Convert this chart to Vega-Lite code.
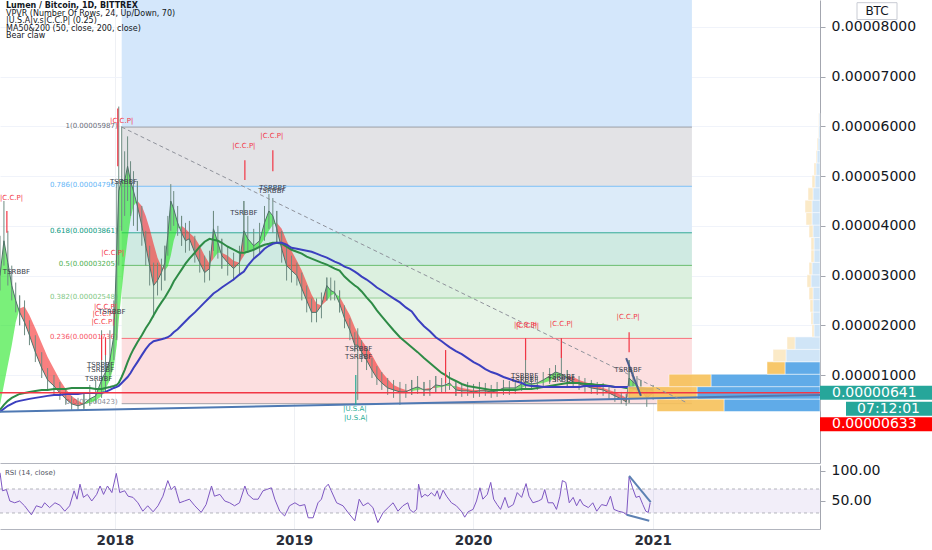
{
  "$schema": "https://vega.github.io/schema/vega-lite/v6.json",
  "background": "#ffffff",
  "padding": 0,
  "spacing": 0,
  "config": {
    "view": {"stroke": null},
    "font": "DejaVu Sans",
    "text": {"font": "DejaVu Sans"},
    "title": {"font": "DejaVu Sans", "subtitleFont": "DejaVu Sans"},
    "axis": {"labelFont": "DejaVu Sans"}
  },
  "datasets": {
    "fibBands": [
      {"date": "2018-01-15", "date2": "2021-03-22", "lo": 0.00005987, "hi": 0.00009, "zone": "target"},
      {"date": "2018-01-15", "date2": "2021-03-22", "lo": 0.00004796, "hi": 0.00005987, "zone": "1-0.786"},
      {"date": "2018-01-15", "date2": "2021-03-22", "lo": 0.00003861, "hi": 0.00004796, "zone": "0.786-0.618"},
      {"date": "2018-01-15", "date2": "2021-03-22", "lo": 0.00003205, "hi": 0.00003861, "zone": "0.618-0.5"},
      {"date": "2018-01-15", "date2": "2021-03-22", "lo": 0.00002548, "hi": 0.00003205, "zone": "0.5-0.382"},
      {"date": "2018-01-15", "date2": "2021-03-22", "lo": 0.00001736, "hi": 0.00002548, "zone": "0.382-0.236"},
      {"date": "2018-01-15", "date2": "2021-03-22", "lo": 0.00000423, "hi": 0.00001736, "zone": "0.236-0"}
    ],
    "fibLevels": [
      {"date": "2018-01-15", "date2": "2021-03-22", "level": "1", "price": 0.00005987, "label": "1(0.00005987)"},
      {"date": "2018-01-15", "date2": "2021-03-22", "level": "0.786", "price": 0.00004796, "label": "0.786(0.00004796)"},
      {"date": "2018-01-15", "date2": "2021-03-22", "level": "0.618", "price": 0.00003861, "label": "0.618(0.00003861)"},
      {"date": "2018-01-15", "date2": "2021-03-22", "level": "0.5", "price": 0.00003205, "label": "0.5(0.00003205)"},
      {"date": "2018-01-15", "date2": "2021-03-22", "level": "0.382", "price": 0.00002548, "label": "0.382(0.00002548)"},
      {"date": "2018-01-15", "date2": "2021-03-22", "level": "0.236", "price": 0.00001736, "label": "0.236(0.00001736)"},
      {"date": "2018-01-15", "date2": "2021-03-22", "level": "0", "price": 0.00000423, "label": "0(0.00000423)"}
    ],
    "xlm": [
      {"date": "2017-05-12", "close": 0.0000300, "claw": 0.0000040, "high": 0.0000380, "low": 0.0000270, "ma50": 0.0000030, "ma200": 0.0000026, "seg": 1, "trend": "up"},
      {"date": "2017-05-20", "close": 0.0000370, "claw": 0.0000080, "high": 0.0000450, "low": 0.0000320, "ma50": 0.0000040, "ma200": 0.0000032, "seg": 1, "trend": "up"},
      {"date": "2017-05-28", "close": 0.0000326, "claw": 0.0000120, "high": 0.0000390, "low": 0.0000280, "ma50": 0.0000048, "ma200": 0.0000038, "seg": 1, "trend": "up"},
      {"date": "2017-06-05", "close": 0.0000280, "claw": 0.0000160, "high": 0.0000320, "low": 0.0000250, "ma50": 0.0000054, "ma200": 0.0000042, "seg": 1, "trend": "up"},
      {"date": "2017-06-13", "close": 0.0000250, "claw": 0.0000206, "high": 0.0000286, "low": 0.0000226, "ma50": 0.0000058, "ma200": 0.0000046, "seg": 1, "trend": "up"},
      {"date": "2017-06-21", "close": 0.0000226, "claw": 0.0000234, "high": 0.0000260, "low": 0.0000200, "ma50": 0.0000062, "ma200": 0.0000048, "seg": 1, "trend": "up"},
      {"date": "2017-06-21", "close": 0.0000226, "claw": 0.0000234, "high": 0.0000260, "low": 0.0000200, "ma50": 0.0000062, "ma200": 0.0000048, "seg": 2, "trend": "down"},
      {"date": "2017-07-01", "close": 0.0000206, "claw": 0.0000238, "high": 0.0000250, "low": 0.0000180, "ma50": 0.0000064, "ma200": 0.0000050, "seg": 2, "trend": "down"},
      {"date": "2017-07-11", "close": 0.0000180, "claw": 0.0000220, "high": 0.0000210, "low": 0.0000160, "ma50": 0.0000066, "ma200": 0.0000052, "seg": 2, "trend": "down"},
      {"date": "2017-07-23", "close": 0.0000146, "claw": 0.0000194, "high": 0.0000180, "low": 0.0000126, "ma50": 0.0000068, "ma200": 0.0000054, "seg": 2, "trend": "down"},
      {"date": "2017-08-05", "close": 0.0000114, "claw": 0.0000164, "high": 0.0000146, "low": 0.0000094, "ma50": 0.0000070, "ma200": 0.0000056, "seg": 2, "trend": "down"},
      {"date": "2017-08-17", "close": 0.0000090, "claw": 0.0000136, "high": 0.0000114, "low": 0.0000070, "ma50": 0.0000070, "ma200": 0.0000058, "seg": 2, "trend": "down"},
      {"date": "2017-08-30", "close": 0.0000078, "claw": 0.0000112, "high": 0.0000100, "low": 0.0000058, "ma50": 0.0000072, "ma200": 0.0000060, "seg": 2, "trend": "down"},
      {"date": "2017-09-11", "close": 0.0000064, "claw": 0.0000090, "high": 0.0000086, "low": 0.0000050, "ma50": 0.0000072, "ma200": 0.0000060, "seg": 2, "trend": "down"},
      {"date": "2017-09-23", "close": 0.0000052, "claw": 0.0000072, "high": 0.0000070, "low": 0.0000040, "ma50": 0.0000072, "ma200": 0.0000062, "seg": 2, "trend": "down"},
      {"date": "2017-10-05", "close": 0.0000042, "claw": 0.0000058, "high": 0.0000058, "low": 0.0000030, "ma50": 0.0000074, "ma200": 0.0000062, "seg": 2, "trend": "down"},
      {"date": "2017-10-18", "close": 0.0000038, "claw": 0.0000048, "high": 0.0000054, "low": 0.0000030, "ma50": 0.0000074, "ma200": 0.0000062, "seg": 2, "trend": "down"},
      {"date": "2017-10-30", "close": 0.0000042, "claw": 0.0000042, "high": 0.0000062, "low": 0.0000032, "ma50": 0.0000074, "ma200": 0.0000064, "seg": 2, "trend": "down"},
      {"date": "2017-10-30", "close": 0.0000042, "claw": 0.0000042, "high": 0.0000062, "low": 0.0000032, "ma50": 0.0000074, "ma200": 0.0000064, "seg": 3, "trend": "up"},
      {"date": "2017-11-11", "close": 0.0000052, "claw": 0.0000044, "high": 0.0000080, "low": 0.0000038, "ma50": 0.0000074, "ma200": 0.0000064, "seg": 3, "trend": "up"},
      {"date": "2017-11-23", "close": 0.0000058, "claw": 0.0000048, "high": 0.0000090, "low": 0.0000044, "ma50": 0.0000072, "ma200": 0.0000064, "seg": 3, "trend": "up"},
      {"date": "2017-12-05", "close": 0.0000090, "claw": 0.0000058, "high": 0.0000190, "low": 0.0000054, "ma50": 0.0000072, "ma200": 0.0000064, "seg": 3, "trend": "up"},
      {"date": "2017-12-13", "close": 0.0000106, "claw": 0.0000072, "high": 0.0000170, "low": 0.0000066, "ma50": 0.0000074, "ma200": 0.0000066, "seg": 3, "trend": "up"},
      {"date": "2017-12-22", "close": 0.0000130, "claw": 0.0000090, "high": 0.0000190, "low": 0.0000100, "ma50": 0.0000076, "ma200": 0.0000070, "seg": 3, "trend": "up"},
      {"date": "2017-12-30", "close": 0.0000180, "claw": 0.0000118, "high": 0.0000250, "low": 0.0000130, "ma50": 0.0000078, "ma200": 0.0000074, "seg": 3, "trend": "up"},
      {"date": "2018-01-05", "close": 0.0000350, "claw": 0.0000160, "high": 0.0000490, "low": 0.0000170, "ma50": 0.0000080, "ma200": 0.0000076, "seg": 3, "trend": "up"},
      {"date": "2018-01-09", "close": 0.0000470, "claw": 0.0000210, "high": 0.0000640, "low": 0.0000320, "ma50": 0.0000084, "ma200": 0.0000078, "seg": 3, "trend": "up"},
      {"date": "2018-01-15", "close": 0.0000494, "claw": 0.0000270, "high": 0.0000600, "low": 0.0000390, "ma50": 0.0000096, "ma200": 0.0000084, "seg": 3, "trend": "up"},
      {"date": "2018-01-21", "close": 0.0000490, "claw": 0.0000326, "high": 0.0000550, "low": 0.0000420, "ma50": 0.0000110, "ma200": 0.0000090, "seg": 3, "trend": "up"},
      {"date": "2018-01-27", "close": 0.0000520, "claw": 0.0000374, "high": 0.0000580, "low": 0.0000450, "ma50": 0.0000126, "ma200": 0.0000096, "seg": 3, "trend": "up"},
      {"date": "2018-02-02", "close": 0.0000490, "claw": 0.0000414, "high": 0.0000530, "low": 0.0000420, "ma50": 0.0000140, "ma200": 0.0000104, "seg": 3, "trend": "up"},
      {"date": "2018-02-08", "close": 0.0000470, "claw": 0.0000440, "high": 0.0000510, "low": 0.0000400, "ma50": 0.0000152, "ma200": 0.0000114, "seg": 3, "trend": "up"},
      {"date": "2018-02-16", "close": 0.0000440, "claw": 0.0000450, "high": 0.0000490, "low": 0.0000390, "ma50": 0.0000166, "ma200": 0.0000126, "seg": 3, "trend": "up"},
      {"date": "2018-02-16", "close": 0.0000440, "claw": 0.0000450, "high": 0.0000490, "low": 0.0000390, "ma50": 0.0000166, "ma200": 0.0000126, "seg": 4, "trend": "down"},
      {"date": "2018-02-25", "close": 0.0000400, "claw": 0.0000440, "high": 0.0000440, "low": 0.0000360, "ma50": 0.0000180, "ma200": 0.0000140, "seg": 4, "trend": "down"},
      {"date": "2018-03-05", "close": 0.0000360, "claw": 0.0000420, "high": 0.0000390, "low": 0.0000320, "ma50": 0.0000194, "ma200": 0.0000152, "seg": 4, "trend": "down"},
      {"date": "2018-03-13", "close": 0.0000320, "claw": 0.0000394, "high": 0.0000360, "low": 0.0000280, "ma50": 0.0000206, "ma200": 0.0000162, "seg": 4, "trend": "down"},
      {"date": "2018-03-21", "close": 0.0000280, "claw": 0.0000364, "high": 0.0000326, "low": 0.0000216, "ma50": 0.0000220, "ma200": 0.0000168, "seg": 4, "trend": "down"},
      {"date": "2018-03-29", "close": 0.0000290, "claw": 0.0000336, "high": 0.0000326, "low": 0.0000260, "ma50": 0.0000234, "ma200": 0.0000170, "seg": 4, "trend": "down"},
      {"date": "2018-04-06", "close": 0.0000306, "claw": 0.0000318, "high": 0.0000334, "low": 0.0000270, "ma50": 0.0000246, "ma200": 0.0000172, "seg": 4, "trend": "down"},
      {"date": "2018-04-13", "close": 0.0000326, "claw": 0.0000310, "high": 0.0000360, "low": 0.0000290, "ma50": 0.0000256, "ma200": 0.0000174, "seg": 4, "trend": "down"},
      {"date": "2018-04-13", "close": 0.0000326, "claw": 0.0000310, "high": 0.0000360, "low": 0.0000290, "ma50": 0.0000256, "ma200": 0.0000174, "seg": 5, "trend": "up"},
      {"date": "2018-04-19", "close": 0.0000380, "claw": 0.0000318, "high": 0.0000420, "low": 0.0000340, "ma50": 0.0000266, "ma200": 0.0000176, "seg": 5, "trend": "up"},
      {"date": "2018-04-25", "close": 0.0000450, "claw": 0.0000340, "high": 0.0000484, "low": 0.0000390, "ma50": 0.0000276, "ma200": 0.0000180, "seg": 5, "trend": "up"},
      {"date": "2018-05-01", "close": 0.0000434, "claw": 0.0000370, "high": 0.0000470, "low": 0.0000400, "ma50": 0.0000288, "ma200": 0.0000186, "seg": 5, "trend": "up"},
      {"date": "2018-05-09", "close": 0.0000406, "claw": 0.0000394, "high": 0.0000440, "low": 0.0000380, "ma50": 0.0000300, "ma200": 0.0000192, "seg": 5, "trend": "up"},
      {"date": "2018-05-17", "close": 0.0000386, "claw": 0.0000400, "high": 0.0000420, "low": 0.0000360, "ma50": 0.0000312, "ma200": 0.0000200, "seg": 5, "trend": "up"},
      {"date": "2018-05-17", "close": 0.0000386, "claw": 0.0000400, "high": 0.0000420, "low": 0.0000360, "ma50": 0.0000312, "ma200": 0.0000200, "seg": 6, "trend": "down"},
      {"date": "2018-05-25", "close": 0.0000370, "claw": 0.0000394, "high": 0.0000406, "low": 0.0000346, "ma50": 0.0000324, "ma200": 0.0000208, "seg": 6, "trend": "down"},
      {"date": "2018-06-02", "close": 0.0000374, "claw": 0.0000386, "high": 0.0000410, "low": 0.0000350, "ma50": 0.0000334, "ma200": 0.0000216, "seg": 6, "trend": "down"},
      {"date": "2018-06-13", "close": 0.0000346, "claw": 0.0000376, "high": 0.0000380, "low": 0.0000326, "ma50": 0.0000346, "ma200": 0.0000226, "seg": 6, "trend": "down"},
      {"date": "2018-06-23", "close": 0.0000326, "claw": 0.0000360, "high": 0.0000360, "low": 0.0000306, "ma50": 0.0000358, "ma200": 0.0000236, "seg": 6, "trend": "down"},
      {"date": "2018-07-03", "close": 0.0000306, "claw": 0.0000340, "high": 0.0000340, "low": 0.0000286, "ma50": 0.0000368, "ma200": 0.0000246, "seg": 6, "trend": "down"},
      {"date": "2018-07-13", "close": 0.0000314, "claw": 0.0000324, "high": 0.0000350, "low": 0.0000290, "ma50": 0.0000374, "ma200": 0.0000256, "seg": 6, "trend": "down"},
      {"date": "2018-07-21", "close": 0.0000394, "claw": 0.0000334, "high": 0.0000430, "low": 0.0000350, "ma50": 0.0000372, "ma200": 0.0000264, "seg": 6, "trend": "down"},
      {"date": "2018-07-21", "close": 0.0000394, "claw": 0.0000334, "high": 0.0000430, "low": 0.0000350, "ma50": 0.0000372, "ma200": 0.0000264, "seg": 7, "trend": "up"},
      {"date": "2018-07-30", "close": 0.0000366, "claw": 0.0000346, "high": 0.0000400, "low": 0.0000334, "ma50": 0.0000370, "ma200": 0.0000270, "seg": 7, "trend": "up"},
      {"date": "2018-08-07", "close": 0.0000340, "claw": 0.0000346, "high": 0.0000374, "low": 0.0000314, "ma50": 0.0000366, "ma200": 0.0000276, "seg": 7, "trend": "up"},
      {"date": "2018-08-07", "close": 0.0000340, "claw": 0.0000346, "high": 0.0000374, "low": 0.0000314, "ma50": 0.0000366, "ma200": 0.0000276, "seg": 8, "trend": "down"},
      {"date": "2018-08-19", "close": 0.0000326, "claw": 0.0000340, "high": 0.0000360, "low": 0.0000300, "ma50": 0.0000358, "ma200": 0.0000284, "seg": 8, "trend": "down"},
      {"date": "2018-08-31", "close": 0.0000314, "claw": 0.0000330, "high": 0.0000346, "low": 0.0000290, "ma50": 0.0000352, "ma200": 0.0000292, "seg": 8, "trend": "down"},
      {"date": "2018-09-12", "close": 0.0000326, "claw": 0.0000326, "high": 0.0000360, "low": 0.0000300, "ma50": 0.0000346, "ma200": 0.0000302, "seg": 8, "trend": "down"},
      {"date": "2018-09-21", "close": 0.0000390, "claw": 0.0000340, "high": 0.0000450, "low": 0.0000350, "ma50": 0.0000346, "ma200": 0.0000308, "seg": 8, "trend": "down"},
      {"date": "2018-09-21", "close": 0.0000390, "claw": 0.0000340, "high": 0.0000450, "low": 0.0000350, "ma50": 0.0000346, "ma200": 0.0000308, "seg": 9, "trend": "up"},
      {"date": "2018-09-29", "close": 0.0000374, "claw": 0.0000350, "high": 0.0000420, "low": 0.0000346, "ma50": 0.0000348, "ma200": 0.0000320, "seg": 9, "trend": "up"},
      {"date": "2018-10-11", "close": 0.0000360, "claw": 0.0000354, "high": 0.0000394, "low": 0.0000334, "ma50": 0.0000352, "ma200": 0.0000334, "seg": 9, "trend": "up"},
      {"date": "2018-10-23", "close": 0.0000370, "claw": 0.0000360, "high": 0.0000406, "low": 0.0000346, "ma50": 0.0000358, "ma200": 0.0000344, "seg": 9, "trend": "up"},
      {"date": "2018-11-02", "close": 0.0000406, "claw": 0.0000374, "high": 0.0000440, "low": 0.0000370, "ma50": 0.0000362, "ma200": 0.0000354, "seg": 9, "trend": "up"},
      {"date": "2018-11-11", "close": 0.0000430, "claw": 0.0000390, "high": 0.0000464, "low": 0.0000394, "ma50": 0.0000364, "ma200": 0.0000360, "seg": 9, "trend": "up"},
      {"date": "2018-11-19", "close": 0.0000420, "claw": 0.0000402, "high": 0.0000456, "low": 0.0000386, "ma50": 0.0000366, "ma200": 0.0000364, "seg": 9, "trend": "up"},
      {"date": "2018-11-27", "close": 0.0000394, "claw": 0.0000406, "high": 0.0000430, "low": 0.0000366, "ma50": 0.0000366, "ma200": 0.0000366, "seg": 9, "trend": "up"},
      {"date": "2018-11-27", "close": 0.0000394, "claw": 0.0000406, "high": 0.0000430, "low": 0.0000366, "ma50": 0.0000366, "ma200": 0.0000366, "seg": 10, "trend": "down"},
      {"date": "2018-12-07", "close": 0.0000354, "claw": 0.0000394, "high": 0.0000390, "low": 0.0000326, "ma50": 0.0000364, "ma200": 0.0000366, "seg": 10, "trend": "down"},
      {"date": "2018-12-17", "close": 0.0000320, "claw": 0.0000370, "high": 0.0000360, "low": 0.0000290, "ma50": 0.0000358, "ma200": 0.0000362, "seg": 10, "trend": "down"},
      {"date": "2018-12-27", "close": 0.0000310, "claw": 0.0000350, "high": 0.0000340, "low": 0.0000286, "ma50": 0.0000352, "ma200": 0.0000356, "seg": 10, "trend": "down"},
      {"date": "2019-01-07", "close": 0.0000300, "claw": 0.0000330, "high": 0.0000326, "low": 0.0000280, "ma50": 0.0000348, "ma200": 0.0000354, "seg": 10, "trend": "down"},
      {"date": "2019-01-17", "close": 0.0000274, "claw": 0.0000310, "high": 0.0000306, "low": 0.0000250, "ma50": 0.0000344, "ma200": 0.0000352, "seg": 10, "trend": "down"},
      {"date": "2019-01-27", "close": 0.0000250, "claw": 0.0000286, "high": 0.0000280, "low": 0.0000226, "ma50": 0.0000338, "ma200": 0.0000350, "seg": 10, "trend": "down"},
      {"date": "2019-02-06", "close": 0.0000226, "claw": 0.0000262, "high": 0.0000254, "low": 0.0000206, "ma50": 0.0000334, "ma200": 0.0000348, "seg": 10, "trend": "down"},
      {"date": "2019-02-16", "close": 0.0000226, "claw": 0.0000244, "high": 0.0000254, "low": 0.0000206, "ma50": 0.0000330, "ma200": 0.0000344, "seg": 10, "trend": "down"},
      {"date": "2019-02-26", "close": 0.0000240, "claw": 0.0000240, "high": 0.0000266, "low": 0.0000214, "ma50": 0.0000326, "ma200": 0.0000340, "seg": 10, "trend": "down"},
      {"date": "2019-03-09", "close": 0.0000280, "claw": 0.0000250, "high": 0.0000296, "low": 0.0000250, "ma50": 0.0000322, "ma200": 0.0000336, "seg": 10, "trend": "down"},
      {"date": "2019-03-09", "close": 0.0000280, "claw": 0.0000250, "high": 0.0000296, "low": 0.0000250, "ma50": 0.0000322, "ma200": 0.0000336, "seg": 11, "trend": "up"},
      {"date": "2019-03-17", "close": 0.0000270, "claw": 0.0000260, "high": 0.0000296, "low": 0.0000250, "ma50": 0.0000318, "ma200": 0.0000332, "seg": 11, "trend": "up"},
      {"date": "2019-03-25", "close": 0.0000266, "claw": 0.0000264, "high": 0.0000290, "low": 0.0000250, "ma50": 0.0000314, "ma200": 0.0000328, "seg": 11, "trend": "up"},
      {"date": "2019-04-04", "close": 0.0000244, "claw": 0.0000258, "high": 0.0000270, "low": 0.0000226, "ma50": 0.0000310, "ma200": 0.0000324, "seg": 11, "trend": "up"},
      {"date": "2019-04-04", "close": 0.0000244, "claw": 0.0000258, "high": 0.0000270, "low": 0.0000226, "ma50": 0.0000310, "ma200": 0.0000324, "seg": 12, "trend": "down"},
      {"date": "2019-04-14", "close": 0.0000214, "claw": 0.0000240, "high": 0.0000240, "low": 0.0000194, "ma50": 0.0000298, "ma200": 0.0000318, "seg": 12, "trend": "down"},
      {"date": "2019-04-25", "close": 0.0000190, "claw": 0.0000220, "high": 0.0000214, "low": 0.0000170, "ma50": 0.0000288, "ma200": 0.0000314, "seg": 12, "trend": "down"},
      {"date": "2019-05-05", "close": 0.0000160, "claw": 0.0000196, "high": 0.0000186, "low": 0.0000146, "ma50": 0.0000280, "ma200": 0.0000308, "seg": 12, "trend": "down"},
      {"date": "2019-05-11", "close": 0.0000160, "claw": 0.0000184, "high": 0.0000194, "low": 0.0000050, "ma50": 0.0000276, "ma200": 0.0000304, "seg": 12, "trend": "down"},
      {"date": "2019-05-19", "close": 0.0000146, "claw": 0.0000170, "high": 0.0000170, "low": 0.0000126, "ma50": 0.0000268, "ma200": 0.0000298, "seg": 12, "trend": "down"},
      {"date": "2019-05-29", "close": 0.0000130, "claw": 0.0000156, "high": 0.0000154, "low": 0.0000110, "ma50": 0.0000256, "ma200": 0.0000292, "seg": 12, "trend": "down"},
      {"date": "2019-06-09", "close": 0.0000110, "claw": 0.0000140, "high": 0.0000134, "low": 0.0000094, "ma50": 0.0000244, "ma200": 0.0000284, "seg": 12, "trend": "down"},
      {"date": "2019-06-19", "close": 0.0000094, "claw": 0.0000122, "high": 0.0000118, "low": 0.0000080, "ma50": 0.0000230, "ma200": 0.0000276, "seg": 12, "trend": "down"},
      {"date": "2019-06-29", "close": 0.0000084, "claw": 0.0000106, "high": 0.0000106, "low": 0.0000070, "ma50": 0.0000218, "ma200": 0.0000270, "seg": 12, "trend": "down"},
      {"date": "2019-07-11", "close": 0.0000074, "claw": 0.0000092, "high": 0.0000094, "low": 0.0000060, "ma50": 0.0000204, "ma200": 0.0000262, "seg": 12, "trend": "down"},
      {"date": "2019-07-23", "close": 0.0000070, "claw": 0.0000080, "high": 0.0000090, "low": 0.0000054, "ma50": 0.0000190, "ma200": 0.0000254, "seg": 12, "trend": "down"},
      {"date": "2019-08-05", "close": 0.0000066, "claw": 0.0000074, "high": 0.0000086, "low": 0.0000040, "ma50": 0.0000176, "ma200": 0.0000246, "seg": 12, "trend": "down"},
      {"date": "2019-08-17", "close": 0.0000066, "claw": 0.0000070, "high": 0.0000082, "low": 0.0000054, "ma50": 0.0000166, "ma200": 0.0000236, "seg": 12, "trend": "down"},
      {"date": "2019-08-29", "close": 0.0000072, "claw": 0.0000068, "high": 0.0000090, "low": 0.0000060, "ma50": 0.0000156, "ma200": 0.0000228, "seg": 12, "trend": "down"},
      {"date": "2019-08-29", "close": 0.0000072, "claw": 0.0000068, "high": 0.0000090, "low": 0.0000060, "ma50": 0.0000156, "ma200": 0.0000228, "seg": 13, "trend": "up"},
      {"date": "2019-09-10", "close": 0.0000076, "claw": 0.0000070, "high": 0.0000098, "low": 0.0000062, "ma50": 0.0000146, "ma200": 0.0000212, "seg": 13, "trend": "up"},
      {"date": "2019-09-23", "close": 0.0000070, "claw": 0.0000072, "high": 0.0000086, "low": 0.0000058, "ma50": 0.0000134, "ma200": 0.0000198, "seg": 13, "trend": "up"},
      {"date": "2019-09-23", "close": 0.0000070, "claw": 0.0000072, "high": 0.0000086, "low": 0.0000058, "ma50": 0.0000134, "ma200": 0.0000198, "seg": 14, "trend": "down"},
      {"date": "2019-10-05", "close": 0.0000070, "claw": 0.0000074, "high": 0.0000090, "low": 0.0000058, "ma50": 0.0000124, "ma200": 0.0000188, "seg": 14, "trend": "down"},
      {"date": "2019-10-17", "close": 0.0000080, "claw": 0.0000074, "high": 0.0000098, "low": 0.0000066, "ma50": 0.0000114, "ma200": 0.0000176, "seg": 14, "trend": "down"},
      {"date": "2019-10-17", "close": 0.0000080, "claw": 0.0000074, "high": 0.0000098, "low": 0.0000066, "ma50": 0.0000114, "ma200": 0.0000176, "seg": 15, "trend": "up"},
      {"date": "2019-10-29", "close": 0.0000078, "claw": 0.0000076, "high": 0.0000094, "low": 0.0000064, "ma50": 0.0000104, "ma200": 0.0000168, "seg": 15, "trend": "up"},
      {"date": "2019-11-06", "close": 0.0000080, "claw": 0.0000078, "high": 0.0000150, "low": 0.0000066, "ma50": 0.0000100, "ma200": 0.0000162, "seg": 15, "trend": "up"},
      {"date": "2019-11-14", "close": 0.0000084, "claw": 0.0000078, "high": 0.0000106, "low": 0.0000070, "ma50": 0.0000094, "ma200": 0.0000156, "seg": 15, "trend": "up"},
      {"date": "2019-11-27", "close": 0.0000070, "claw": 0.0000078, "high": 0.0000086, "low": 0.0000058, "ma50": 0.0000088, "ma200": 0.0000148, "seg": 15, "trend": "up"},
      {"date": "2019-11-27", "close": 0.0000070, "claw": 0.0000078, "high": 0.0000086, "low": 0.0000058, "ma50": 0.0000088, "ma200": 0.0000148, "seg": 16, "trend": "down"},
      {"date": "2019-12-09", "close": 0.0000068, "claw": 0.0000074, "high": 0.0000082, "low": 0.0000056, "ma50": 0.0000082, "ma200": 0.0000142, "seg": 16, "trend": "down"},
      {"date": "2019-12-21", "close": 0.0000068, "claw": 0.0000072, "high": 0.0000086, "low": 0.0000058, "ma50": 0.0000078, "ma200": 0.0000134, "seg": 16, "trend": "down"},
      {"date": "2020-01-02", "close": 0.0000066, "claw": 0.0000070, "high": 0.0000082, "low": 0.0000054, "ma50": 0.0000076, "ma200": 0.0000126, "seg": 16, "trend": "down"},
      {"date": "2020-01-14", "close": 0.0000068, "claw": 0.0000070, "high": 0.0000086, "low": 0.0000056, "ma50": 0.0000074, "ma200": 0.0000120, "seg": 16, "trend": "down"},
      {"date": "2020-01-26", "close": 0.0000068, "claw": 0.0000070, "high": 0.0000084, "low": 0.0000058, "ma50": 0.0000072, "ma200": 0.0000112, "seg": 16, "trend": "down"},
      {"date": "2020-02-07", "close": 0.0000066, "claw": 0.0000068, "high": 0.0000080, "low": 0.0000054, "ma50": 0.0000070, "ma200": 0.0000106, "seg": 16, "trend": "down"},
      {"date": "2020-02-19", "close": 0.0000068, "claw": 0.0000070, "high": 0.0000086, "low": 0.0000056, "ma50": 0.0000070, "ma200": 0.0000102, "seg": 16, "trend": "down"},
      {"date": "2020-03-03", "close": 0.0000074, "claw": 0.0000070, "high": 0.0000090, "low": 0.0000060, "ma50": 0.0000070, "ma200": 0.0000096, "seg": 16, "trend": "down"},
      {"date": "2020-03-03", "close": 0.0000074, "claw": 0.0000070, "high": 0.0000090, "low": 0.0000060, "ma50": 0.0000070, "ma200": 0.0000096, "seg": 17, "trend": "up"},
      {"date": "2020-03-15", "close": 0.0000074, "claw": 0.0000072, "high": 0.0000088, "low": 0.0000060, "ma50": 0.0000070, "ma200": 0.0000092, "seg": 17, "trend": "up"},
      {"date": "2020-03-27", "close": 0.0000074, "claw": 0.0000072, "high": 0.0000090, "low": 0.0000062, "ma50": 0.0000070, "ma200": 0.0000088, "seg": 17, "trend": "up"},
      {"date": "2020-04-09", "close": 0.0000082, "claw": 0.0000074, "high": 0.0000100, "low": 0.0000068, "ma50": 0.0000072, "ma200": 0.0000084, "seg": 17, "trend": "up"},
      {"date": "2020-04-17", "close": 0.0000086, "claw": 0.0000078, "high": 0.0000170, "low": 0.0000070, "ma50": 0.0000072, "ma200": 0.0000080, "seg": 17, "trend": "up"},
      {"date": "2020-04-29", "close": 0.0000082, "claw": 0.0000080, "high": 0.0000098, "low": 0.0000070, "ma50": 0.0000072, "ma200": 0.0000078, "seg": 17, "trend": "up"},
      {"date": "2020-05-11", "close": 0.0000084, "claw": 0.0000082, "high": 0.0000098, "low": 0.0000070, "ma50": 0.0000074, "ma200": 0.0000078, "seg": 17, "trend": "up"},
      {"date": "2020-05-23", "close": 0.0000090, "claw": 0.0000084, "high": 0.0000106, "low": 0.0000074, "ma50": 0.0000076, "ma200": 0.0000076, "seg": 17, "trend": "up"},
      {"date": "2020-06-05", "close": 0.0000098, "claw": 0.0000088, "high": 0.0000114, "low": 0.0000082, "ma50": 0.0000078, "ma200": 0.0000076, "seg": 17, "trend": "up"},
      {"date": "2020-06-17", "close": 0.0000106, "claw": 0.0000094, "high": 0.0000120, "low": 0.0000086, "ma50": 0.0000080, "ma200": 0.0000076, "seg": 17, "trend": "up"},
      {"date": "2020-06-29", "close": 0.0000102, "claw": 0.0000098, "high": 0.0000174, "low": 0.0000086, "ma50": 0.0000082, "ma200": 0.0000076, "seg": 17, "trend": "up"},
      {"date": "2020-07-11", "close": 0.0000094, "claw": 0.0000098, "high": 0.0000110, "low": 0.0000078, "ma50": 0.0000084, "ma200": 0.0000076, "seg": 17, "trend": "up"},
      {"date": "2020-07-11", "close": 0.0000094, "claw": 0.0000098, "high": 0.0000110, "low": 0.0000078, "ma50": 0.0000084, "ma200": 0.0000076, "seg": 18, "trend": "down"},
      {"date": "2020-07-23", "close": 0.0000086, "claw": 0.0000096, "high": 0.0000102, "low": 0.0000074, "ma50": 0.0000084, "ma200": 0.0000076, "seg": 18, "trend": "down"},
      {"date": "2020-08-04", "close": 0.0000082, "claw": 0.0000090, "high": 0.0000098, "low": 0.0000070, "ma50": 0.0000084, "ma200": 0.0000076, "seg": 18, "trend": "down"},
      {"date": "2020-08-16", "close": 0.0000078, "claw": 0.0000086, "high": 0.0000094, "low": 0.0000066, "ma50": 0.0000082, "ma200": 0.0000078, "seg": 18, "trend": "down"},
      {"date": "2020-08-29", "close": 0.0000074, "claw": 0.0000082, "high": 0.0000090, "low": 0.0000062, "ma50": 0.0000082, "ma200": 0.0000078, "seg": 18, "trend": "down"},
      {"date": "2020-09-10", "close": 0.0000072, "claw": 0.0000078, "high": 0.0000086, "low": 0.0000060, "ma50": 0.0000080, "ma200": 0.0000078, "seg": 18, "trend": "down"},
      {"date": "2020-09-22", "close": 0.0000070, "claw": 0.0000074, "high": 0.0000084, "low": 0.0000058, "ma50": 0.0000080, "ma200": 0.0000078, "seg": 18, "trend": "down"},
      {"date": "2020-10-04", "close": 0.0000064, "claw": 0.0000070, "high": 0.0000078, "low": 0.0000052, "ma50": 0.0000078, "ma200": 0.0000078, "seg": 18, "trend": "down"},
      {"date": "2020-10-16", "close": 0.0000058, "claw": 0.0000066, "high": 0.0000072, "low": 0.0000046, "ma50": 0.0000076, "ma200": 0.0000076, "seg": 18, "trend": "down"},
      {"date": "2020-10-29", "close": 0.0000052, "claw": 0.0000060, "high": 0.0000066, "low": 0.0000042, "ma50": 0.0000076, "ma200": 0.0000076, "seg": 18, "trend": "down"},
      {"date": "2020-11-08", "close": 0.0000046, "claw": 0.0000054, "high": 0.0000062, "low": 0.0000038, "ma50": 0.0000074, "ma200": 0.0000076, "seg": 18, "trend": "down"},
      {"date": "2020-11-14", "close": 0.0000094, "claw": 0.0000058, "high": 0.0000130, "low": 0.0000044, "ma50": 0.0000074, "ma200": 0.0000076, "seg": 18, "trend": "down"},
      {"date": "2020-11-14", "close": 0.0000094, "claw": 0.0000058, "high": 0.0000130, "low": 0.0000044, "ma50": 0.0000074, "ma200": 0.0000076, "seg": 19, "trend": "up"},
      {"date": "2020-11-22", "close": 0.0000086, "claw": 0.0000068, "high": 0.0000106, "low": 0.0000070, "ma50": 0.0000074, "ma200": 0.0000074, "seg": 19, "trend": "up"},
      {"date": "2020-11-30", "close": 0.0000080, "claw": 0.0000074, "high": 0.0000098, "low": 0.0000066, "ma50": 0.0000072, "ma200": 0.0000074, "seg": 19, "trend": "up"},
      {"date": "2020-12-08", "close": 0.0000070, "claw": 0.0000076, "high": 0.0000090, "low": 0.0000058, "ma50": 0.0000072, "ma200": 0.0000074, "seg": 19, "trend": "up"},
      {"date": "2020-12-08", "close": 0.0000070, "claw": 0.0000076, "high": 0.0000090, "low": 0.0000058, "ma50": 0.0000072, "ma200": 0.0000074, "seg": 20, "trend": "down"},
      {"date": "2020-12-20", "close": 0.0000054, "claw": 0.0000070, "high": 0.0000074, "low": 0.0000036, "ma50": 0.0000072, "ma200": 0.0000072, "seg": 20, "trend": "down"},
      {"date": "2021-01-02", "close": 0.0000064, "claw": 0.0000068, "high": 0.0000080, "low": 0.0000050, "ma50": 0.0000070, "ma200": 0.0000072, "seg": 20, "trend": "down"}
    ],
    "vpvr": [
      {"lo": 0.00000266, "hi": 0.00000516, "side": "buy", "tone": "buy VA", "vol": 96},
      {"lo": 0.00000266, "hi": 0.00000516, "side": "sell", "tone": "sell VA", "vol": 67},
      {"lo": 0.00000516, "hi": 0.00000766, "side": "buy", "tone": "buy VA", "vol": 123},
      {"lo": 0.00000516, "hi": 0.00000766, "side": "sell", "tone": "sell VA", "vol": 69},
      {"lo": 0.00000766, "hi": 0.00001016, "side": "buy", "tone": "buy VA", "vol": 109},
      {"lo": 0.00000766, "hi": 0.00001016, "side": "sell", "tone": "sell VA", "vol": 42},
      {"lo": 0.00001016, "hi": 0.00001266, "side": "buy", "tone": "buy VA", "vol": 35},
      {"lo": 0.00001016, "hi": 0.00001266, "side": "sell", "tone": "sell VA", "vol": 18},
      {"lo": 0.00001266, "hi": 0.00001516, "side": "buy", "tone": "buy", "vol": 34},
      {"lo": 0.00001266, "hi": 0.00001516, "side": "sell", "tone": "sell", "vol": 13},
      {"lo": 0.00001516, "hi": 0.00001766, "side": "buy", "tone": "buy", "vol": 25},
      {"lo": 0.00001516, "hi": 0.00001766, "side": "sell", "tone": "sell", "vol": 8},
      {"lo": 0.00001766, "hi": 0.00002016, "side": "buy", "tone": "buy", "vol": 6},
      {"lo": 0.00001766, "hi": 0.00002016, "side": "sell", "tone": "sell", "vol": 2},
      {"lo": 0.00002016, "hi": 0.00002266, "side": "buy", "tone": "buy", "vol": 7},
      {"lo": 0.00002016, "hi": 0.00002266, "side": "sell", "tone": "sell", "vol": 2},
      {"lo": 0.00002266, "hi": 0.00002516, "side": "buy", "tone": "buy", "vol": 7},
      {"lo": 0.00002266, "hi": 0.00002516, "side": "sell", "tone": "sell", "vol": 3},
      {"lo": 0.00002516, "hi": 0.00002766, "side": "buy", "tone": "buy", "vol": 7},
      {"lo": 0.00002516, "hi": 0.00002766, "side": "sell", "tone": "sell", "vol": 4},
      {"lo": 0.00002766, "hi": 0.00003016, "side": "buy", "tone": "buy", "vol": 9},
      {"lo": 0.00002766, "hi": 0.00003016, "side": "sell", "tone": "sell", "vol": 4},
      {"lo": 0.00003016, "hi": 0.00003266, "side": "buy", "tone": "buy", "vol": 8},
      {"lo": 0.00003016, "hi": 0.00003266, "side": "sell", "tone": "sell", "vol": 3},
      {"lo": 0.00003266, "hi": 0.00003516, "side": "buy", "tone": "buy", "vol": 6},
      {"lo": 0.00003266, "hi": 0.00003516, "side": "sell", "tone": "sell", "vol": 3},
      {"lo": 0.00003516, "hi": 0.00003766, "side": "buy", "tone": "buy", "vol": 6},
      {"lo": 0.00003516, "hi": 0.00003766, "side": "sell", "tone": "sell", "vol": 3},
      {"lo": 0.00003766, "hi": 0.00004016, "side": "buy", "tone": "buy", "vol": 7},
      {"lo": 0.00003766, "hi": 0.00004016, "side": "sell", "tone": "sell", "vol": 4},
      {"lo": 0.00004016, "hi": 0.00004266, "side": "buy", "tone": "buy", "vol": 8},
      {"lo": 0.00004016, "hi": 0.00004266, "side": "sell", "tone": "sell", "vol": 6},
      {"lo": 0.00004266, "hi": 0.00004516, "side": "buy", "tone": "buy", "vol": 8},
      {"lo": 0.00004266, "hi": 0.00004516, "side": "sell", "tone": "sell", "vol": 7},
      {"lo": 0.00004516, "hi": 0.00004766, "side": "buy", "tone": "buy", "vol": 7},
      {"lo": 0.00004516, "hi": 0.00004766, "side": "sell", "tone": "sell", "vol": 5},
      {"lo": 0.00004766, "hi": 0.00005016, "side": "buy", "tone": "buy", "vol": 5},
      {"lo": 0.00004766, "hi": 0.00005016, "side": "sell", "tone": "sell", "vol": 3},
      {"lo": 0.00005016, "hi": 0.00005266, "side": "buy", "tone": "buy", "vol": 4},
      {"lo": 0.00005016, "hi": 0.00005266, "side": "sell", "tone": "sell", "vol": 2},
      {"lo": 0.00005266, "hi": 0.00005516, "side": "buy", "tone": "buy", "vol": 3},
      {"lo": 0.00005266, "hi": 0.00005516, "side": "sell", "tone": "sell", "vol": 1},
      {"lo": 0.00005516, "hi": 0.00005766, "side": "buy", "tone": "buy", "vol": 2},
      {"lo": 0.00005516, "hi": 0.00005766, "side": "sell", "tone": "sell", "vol": 1},
      {"lo": 0.00005766, "hi": 0.00006016, "side": "buy", "tone": "buy", "vol": 1.5},
      {"lo": 0.00005766, "hi": 0.00006016, "side": "sell", "tone": "sell", "vol": 0.5},
      {"lo": 0.00006016, "hi": 0.00006266, "side": "buy", "tone": "buy", "vol": 1},
      {"lo": 0.00006016, "hi": 0.00006266, "side": "sell", "tone": "sell", "vol": 0.5}
    ],
    "drawings": [
      {"date": "2017-05-12", "price": 0.0000026, "line": "support"},
      {"date": "2021-12-08", "price": 0.0000060, "line": "support"},
      {"date": "2017-05-12", "price": 0.00000644, "line": "level"},
      {"date": "2021-12-08", "price": 0.00000644, "line": "level"},
      {"date": "2018-01-15", "price": 0.00005987, "line": "fan"},
      {"date": "2021-03-12", "price": 0.0000044, "line": "fan"},
      {"date": "2020-11-08", "price": 0.0000134, "line": "claw"},
      {"date": "2020-12-08", "price": 0.0000058, "line": "claw"}
    ],
    "signalLines": [
      {"date": "2017-05-26", "low": 0.0000386, "high": 0.0000430, "kind": "CCP"},
      {"date": "2018-01-07", "low": 0.0000520, "high": 0.0000636, "kind": "CCP"},
      {"date": "2018-09-23", "low": 0.0000492, "high": 0.0000532, "kind": "CCP"},
      {"date": "2018-11-19", "low": 0.0000510, "high": 0.0000552, "kind": "CCP"},
      {"date": "2017-12-05", "low": 0.0000130, "high": 0.0000180, "kind": "CCP"},
      {"date": "2017-12-13", "low": 0.0000140, "high": 0.0000176, "kind": "CCP"},
      {"date": "2019-11-06", "low": 0.0000084, "high": 0.0000150, "kind": "CCP"},
      {"date": "2020-04-17", "low": 0.0000130, "high": 0.0000174, "kind": "CCP"},
      {"date": "2020-06-29", "low": 0.0000134, "high": 0.0000174, "kind": "CCP"},
      {"date": "2020-11-14", "low": 0.0000146, "high": 0.0000186, "kind": "CCP"},
      {"date": "2019-05-07", "low": 0.0000040, "high": 0.0000100, "kind": "USA"}
    ],
    "signals": [
      {"date": "2017-05-22", "price": 0.0000456, "label": "|C.C.P|", "kind": "CCP"},
      {"date": "2018-01-15", "price": 0.0000610, "label": "|C.C.P|", "kind": "CCP"},
      {"date": "2017-12-28", "price": 0.0000346, "label": "|C.C.P|", "kind": "CCP"},
      {"date": "2017-12-13", "price": 0.0000236, "label": "|C.C.P|", "kind": "CCP"},
      {"date": "2017-12-10", "price": 0.0000222, "label": "|C.C.P|", "kind": "CCP"},
      {"date": "2017-12-08", "price": 0.0000206, "label": "|C.C.P|", "kind": "CCP"},
      {"date": "2018-09-21", "price": 0.0000560, "label": "|C.C.P|", "kind": "CCP"},
      {"date": "2018-11-17", "price": 0.0000580, "label": "|C.C.P|", "kind": "CCP"},
      {"date": "2020-04-17", "price": 0.0000200, "label": "|C.C.P|", "kind": "CCP"},
      {"date": "2020-04-21", "price": 0.0000198, "label": "|C.C.P|", "kind": "CCP"},
      {"date": "2020-06-29", "price": 0.0000202, "label": "|C.C.P|", "kind": "CCP"},
      {"date": "2020-11-12", "price": 0.0000216, "label": "|C.C.P|", "kind": "CCP"},
      {"date": "2019-05-05", "price": 0.0000032, "label": "|U.S.A|", "kind": "USA"},
      {"date": "2019-05-07", "price": 0.0000014, "label": "|U.S.A|", "kind": "USA"},
      {"date": "2017-05-28", "price": 0.0000308, "label": "TSRBBF", "kind": "TSRBBF"},
      {"date": "2018-01-19", "price": 0.0000488, "label": "TSRBBF", "kind": "TSRBBF"},
      {"date": "2018-09-21", "price": 0.0000426, "label": "TSRBBF", "kind": "TSRBBF"},
      {"date": "2018-11-17", "price": 0.0000470, "label": "TSRBBF", "kind": "TSRBBF"},
      {"date": "2018-11-19", "price": 0.0000476, "label": "TSRBBF", "kind": "TSRBBF"},
      {"date": "2017-12-26", "price": 0.0000226, "label": "TSRBBF", "kind": "TSRBBF"},
      {"date": "2017-12-03", "price": 0.0000120, "label": "TSRBBF", "kind": "TSRBBF"},
      {"date": "2017-12-03", "price": 0.0000110, "label": "TSRBBF", "kind": "TSRBBF"},
      {"date": "2017-11-29", "price": 0.0000092, "label": "TSRBBF", "kind": "TSRBBF"},
      {"date": "2019-05-13", "price": 0.0000152, "label": "TSRBBF", "kind": "TSRBBF"},
      {"date": "2019-05-13", "price": 0.0000136, "label": "TSRBBF", "kind": "TSRBBF"},
      {"date": "2020-04-15", "price": 0.0000098, "label": "TSRBBF", "kind": "TSRBBF"},
      {"date": "2020-04-15", "price": 0.0000090, "label": "TSRBBF", "kind": "TSRBBF"},
      {"date": "2020-06-29", "price": 0.0000096, "label": "TSRBBF", "kind": "TSRBBF"},
      {"date": "2020-06-29", "price": 0.0000090, "label": "TSRBBF", "kind": "TSRBBF"},
      {"date": "2020-11-12", "price": 0.0000110, "label": "TSRBBF", "kind": "TSRBBF"}
    ],
    "tags": [
      {"label": "0.00000641", "price": 0.00000641, "kind": "last"},
      {"label": "07:12:01", "price": 0.00000641, "kind": "countdown"},
      {"label": "0.00000633", "price": 0.00000633, "kind": "bid"}
    ],
    "scaleLabel": [
      {"label": "BTC", "price": 0.0000832}
    ],
    "rsiBand": [
      {"date": "2017-05-12", "date2": "2021-12-08", "lo": 30, "hi": 70}
    ],
    "rsi": [
      {"date": "2017-05-12", "rsi": 97}, {"date": "2017-05-17", "rsi": 67}, {"date": "2017-05-25", "rsi": 69},
      {"date": "2017-06-01", "rsi": 50}, {"date": "2017-06-11", "rsi": 47}, {"date": "2017-06-21", "rsi": 50},
      {"date": "2017-07-01", "rsi": 42}, {"date": "2017-07-15", "rsi": 27}, {"date": "2017-07-25", "rsi": 42},
      {"date": "2017-08-05", "rsi": 39}, {"date": "2017-08-11", "rsi": 47}, {"date": "2017-08-21", "rsi": 39},
      {"date": "2017-09-01", "rsi": 47}, {"date": "2017-09-11", "rsi": 43}, {"date": "2017-09-21", "rsi": 33},
      {"date": "2017-10-01", "rsi": 42}, {"date": "2017-10-10", "rsi": 67}, {"date": "2017-10-16", "rsi": 53},
      {"date": "2017-10-22", "rsi": 78}, {"date": "2017-10-29", "rsi": 56}, {"date": "2017-11-06", "rsi": 61},
      {"date": "2017-11-15", "rsi": 50}, {"date": "2017-11-25", "rsi": 61}, {"date": "2017-12-02", "rsi": 75},
      {"date": "2017-12-09", "rsi": 61}, {"date": "2017-12-17", "rsi": 75}, {"date": "2017-12-26", "rsi": 64},
      {"date": "2018-01-04", "rsi": 96}, {"date": "2018-01-11", "rsi": 64}, {"date": "2018-01-21", "rsi": 67},
      {"date": "2018-01-28", "rsi": 58}, {"date": "2018-02-07", "rsi": 56}, {"date": "2018-02-17", "rsi": 47},
      {"date": "2018-02-27", "rsi": 33}, {"date": "2018-03-09", "rsi": 42}, {"date": "2018-03-20", "rsi": 32},
      {"date": "2018-03-30", "rsi": 42}, {"date": "2018-04-09", "rsi": 58}, {"date": "2018-04-19", "rsi": 84},
      {"date": "2018-04-26", "rsi": 69}, {"date": "2018-05-03", "rsi": 75}, {"date": "2018-05-13", "rsi": 47},
      {"date": "2018-05-23", "rsi": 50}, {"date": "2018-06-02", "rsi": 53}, {"date": "2018-06-13", "rsi": 42},
      {"date": "2018-06-26", "rsi": 31}, {"date": "2018-07-06", "rsi": 44}, {"date": "2018-07-17", "rsi": 75},
      {"date": "2018-07-23", "rsi": 58}, {"date": "2018-08-03", "rsi": 61}, {"date": "2018-08-13", "rsi": 50},
      {"date": "2018-08-23", "rsi": 47}, {"date": "2018-09-02", "rsi": 42}, {"date": "2018-09-12", "rsi": 47},
      {"date": "2018-09-23", "rsi": 75}, {"date": "2018-09-29", "rsi": 61}, {"date": "2018-10-10", "rsi": 53},
      {"date": "2018-10-20", "rsi": 53}, {"date": "2018-10-30", "rsi": 67}, {"date": "2018-11-06", "rsi": 69},
      {"date": "2018-11-16", "rsi": 72}, {"date": "2018-11-23", "rsi": 53}, {"date": "2018-12-03", "rsi": 33},
      {"date": "2018-12-13", "rsi": 25}, {"date": "2018-12-23", "rsi": 42}, {"date": "2019-01-03", "rsi": 47},
      {"date": "2019-01-13", "rsi": 42}, {"date": "2019-01-23", "rsi": 44}, {"date": "2019-01-30", "rsi": 22},
      {"date": "2019-02-09", "rsi": 22}, {"date": "2019-02-19", "rsi": 47}, {"date": "2019-02-26", "rsi": 53},
      {"date": "2019-03-05", "rsi": 72}, {"date": "2019-03-12", "rsi": 78}, {"date": "2019-03-18", "rsi": 67},
      {"date": "2019-03-29", "rsi": 47}, {"date": "2019-04-11", "rsi": 42}, {"date": "2019-04-21", "rsi": 31},
      {"date": "2019-05-05", "rsi": 17}, {"date": "2019-05-14", "rsi": 53}, {"date": "2019-05-22", "rsi": 42},
      {"date": "2019-06-01", "rsi": 47}, {"date": "2019-06-11", "rsi": 39}, {"date": "2019-06-21", "rsi": 14},
      {"date": "2019-07-02", "rsi": 31}, {"date": "2019-07-12", "rsi": 39}, {"date": "2019-07-22", "rsi": 47},
      {"date": "2019-08-01", "rsi": 33}, {"date": "2019-08-11", "rsi": 42}, {"date": "2019-08-21", "rsi": 47},
      {"date": "2019-08-25", "rsi": 36}, {"date": "2019-09-01", "rsi": 31}, {"date": "2019-09-08", "rsi": 36},
      {"date": "2019-09-12", "rsi": 78}, {"date": "2019-09-18", "rsi": 56}, {"date": "2019-09-25", "rsi": 61},
      {"date": "2019-10-01", "rsi": 58}, {"date": "2019-10-08", "rsi": 64}, {"date": "2019-10-15", "rsi": 58},
      {"date": "2019-10-20", "rsi": 67}, {"date": "2019-10-25", "rsi": 53}, {"date": "2019-11-01", "rsi": 68},
      {"date": "2019-11-08", "rsi": 58}, {"date": "2019-11-18", "rsi": 47}, {"date": "2019-11-28", "rsi": 42},
      {"date": "2019-12-09", "rsi": 32}, {"date": "2019-12-15", "rsi": 23}, {"date": "2019-12-22", "rsi": 32},
      {"date": "2020-01-01", "rsi": 36}, {"date": "2020-01-08", "rsi": 50}, {"date": "2020-01-15", "rsi": 72},
      {"date": "2020-01-21", "rsi": 53}, {"date": "2020-01-30", "rsi": 61}, {"date": "2020-02-06", "rsi": 81},
      {"date": "2020-02-12", "rsi": 53}, {"date": "2020-02-19", "rsi": 44}, {"date": "2020-02-26", "rsi": 36},
      {"date": "2020-03-06", "rsi": 56}, {"date": "2020-03-13", "rsi": 39}, {"date": "2020-03-23", "rsi": 44},
      {"date": "2020-03-31", "rsi": 64}, {"date": "2020-04-09", "rsi": 56}, {"date": "2020-04-18", "rsi": 79},
      {"date": "2020-04-24", "rsi": 58}, {"date": "2020-05-02", "rsi": 47}, {"date": "2020-05-13", "rsi": 50},
      {"date": "2020-05-20", "rsi": 53}, {"date": "2020-05-26", "rsi": 69}, {"date": "2020-06-02", "rsi": 47},
      {"date": "2020-06-12", "rsi": 47}, {"date": "2020-06-19", "rsi": 36}, {"date": "2020-06-26", "rsi": 58},
      {"date": "2020-07-01", "rsi": 84}, {"date": "2020-07-08", "rsi": 81}, {"date": "2020-07-15", "rsi": 47},
      {"date": "2020-07-23", "rsi": 56}, {"date": "2020-07-30", "rsi": 42}, {"date": "2020-08-06", "rsi": 53},
      {"date": "2020-08-12", "rsi": 44}, {"date": "2020-08-23", "rsi": 39}, {"date": "2020-09-01", "rsi": 47},
      {"date": "2020-09-09", "rsi": 33}, {"date": "2020-09-19", "rsi": 44}, {"date": "2020-09-29", "rsi": 42},
      {"date": "2020-10-07", "rsi": 58}, {"date": "2020-10-14", "rsi": 36}, {"date": "2020-10-23", "rsi": 33},
      {"date": "2020-11-02", "rsi": 31}, {"date": "2020-11-09", "rsi": 27}, {"date": "2020-11-14", "rsi": 90},
      {"date": "2020-11-21", "rsi": 72}, {"date": "2020-11-28", "rsi": 56}, {"date": "2020-12-05", "rsi": 58},
      {"date": "2020-12-12", "rsi": 44}, {"date": "2020-12-18", "rsi": 33}, {"date": "2020-12-23", "rsi": 31},
      {"date": "2020-12-27", "rsi": 47}
    ],
    "rsiLines": [
      {"date": "2020-11-14", "rsi": 92, "line": "upper"},
      {"date": "2020-12-28", "rsi": 48, "line": "upper"},
      {"date": "2020-11-09", "rsi": 27, "line": "lower"},
      {"date": "2020-12-25", "rsi": 17, "line": "lower"}
    ]
  },
  "vconcat": [
    {
      "width": 820,
      "height": 463,
      "title": {
        "text": "Lumen / Bitcoin, 1D, BITTREX",
        "subtitle": ["VPVR (Number Of Rows, 24, Up/Down, 70)", "|U.S.A|v.s|C.C.P| (0.25)", "MA50&200 (50, close, 200, close)", "Bear claw"],
        "anchor": "start",
        "frame": "group",
        "orient": "top",
        "offset": -40,
        "dx": 6,
        "fontSize": 8,
        "fontWeight": "bold",
        "color": "#131722",
        "subtitleFontSize": 8,
        "subtitleColor": "#131722",
        "subtitlePadding": 0,
        "subtitleLineHeight": 7.4
      },
      "layer": [
        {
          "encoding": {
            "x": {
              "field": "date", "type": "temporal", "title": null,
              "scale": {"domain": [{"year": 2017, "month": 5, "date": 12}, {"year": 2021, "month": 12, "date": 8}]},
              "axis": {
                "values": [{"year": 2018, "month": 1, "date": 1}, {"year": 2019, "month": 1, "date": 1}, {"year": 2020, "month": 1, "date": 1}, {"year": 2021, "month": 1, "date": 1}],
                "labels": false, "ticks": false, "domain": true, "domainColor": "#b2b5be",
                "grid": true, "gridColor": "#eef0f4"
              }
            }
          },
          "layer": [
            {
              "data": {"name": "fibBands"},
              "mark": {"type": "rect", "clip": true},
              "encoding": {
                "x2": {"field": "date2"},
                "y": {
                  "field": "lo", "type": "quantitative", "title": null,
                  "scale": {"domain": [-0.0000077, 0.00008543], "nice": false, "zero": false},
                  "axis": {
                    "orient": "right",
                    "values": [0.00001, 0.00002, 0.00003, 0.00004, 0.00005, 0.00006, 0.00007, 0.00008],
                    "labelExpr": "format(datum.value, '.8f')",
                    "labelFontSize": 14, "labelColor": "#131722", "labelPadding": 6,
                    "tickSize": 5, "tickColor": "#a3a6af", "domainColor": "#a3a6af",
                    "grid": true, "gridColor": "#f0f3fa"
                  }
                },
                "y2": {"field": "hi"},
                "color": {
                  "field": "zone", "type": "nominal", "legend": null,
                  "scale": {
                    "domain": ["target", "1-0.786", "0.786-0.618", "0.618-0.5", "0.5-0.382", "0.382-0.236", "0.236-0"],
                    "range": ["#d4e7fb", "#e3e3e6", "#dcebf9", "#cfeae2", "#dcf0df", "#e7f4e7", "#fcdfe0"]
                  }
                }
              }
            },
            {
              "data": {"name": "fibLevels"},
              "mark": {"type": "rule", "strokeWidth": 1, "opacity": 0.8},
              "encoding": {
                "x2": {"field": "date2"},
                "y": {"field": "price", "type": "quantitative", "title": null},
                "color": {
                  "field": "level", "type": "nominal", "legend": null,
                  "scale": {"domain": ["1", "0.786", "0.618", "0.5", "0.382", "0.236", "0"], "range": ["#8a8d96", "#64b5f6", "#089981", "#4caf50", "#81c784", "#f7525f", "#8a8d96"]}
                }
              }
            },
            {
              "data": {"name": "fibLevels"},
              "mark": {"type": "text", "align": "right", "baseline": "bottom", "dx": -4, "dy": 1.5, "fontSize": 7},
              "encoding": {
                "y": {"field": "price", "type": "quantitative", "title": null},
                "text": {"field": "label"},
                "color": {
                  "field": "level", "type": "nominal", "legend": null,
                  "scale": {"domain": ["1", "0.786", "0.618", "0.5", "0.382", "0.236", "0"], "range": ["#6a6d78", "#64b5f6", "#089981", "#4caf50", "#81c784", "#f7525f", "#8a8d96"]}
                }
              }
            },
            {
              "data": {"name": "xlm"},
              "mark": {"type": "area", "opacity": 0.6, "clip": true},
              "encoding": {
                "y": {"field": "close", "type": "quantitative", "title": null},
                "y2": {"field": "claw"},
                "color": {"field": "trend", "type": "nominal", "legend": null, "scale": {"domain": ["up", "down"], "range": ["#22e622", "#f52b2b"]}},
                "detail": {"field": "seg", "type": "nominal"}
              }
            },
            {
              "data": {"name": "xlm"},
              "mark": {"type": "rule", "color": "#6e8c82", "strokeWidth": 1, "clip": true},
              "encoding": {
                "y": {"field": "low", "type": "quantitative", "title": null},
                "y2": {"field": "high"}
              }
            },
            {
              "data": {"name": "xlm"},
              "mark": {"type": "line", "color": "#4f7268", "strokeWidth": 1, "clip": true},
              "encoding": {"y": {"field": "close", "type": "quantitative", "title": null}}
            },
            {
              "data": {"name": "xlm"},
              "mark": {"type": "line", "color": "#2e8b46", "strokeWidth": 2, "clip": true},
              "encoding": {"y": {"field": "ma50", "type": "quantitative", "title": null}}
            },
            {
              "data": {"name": "xlm"},
              "mark": {"type": "line", "color": "#3b3fbf", "strokeWidth": 2, "clip": true},
              "encoding": {"y": {"field": "ma200", "type": "quantitative", "title": null}}
            }
          ],
          "resolve": {"scale": {"color": "independent"}}
        },
        {
          "layer": [
            {
              "data": {"name": "vpvr"},
              "transform": [{"stack": "vol", "groupby": ["lo"], "sort": [{"field": "side", "order": "ascending"}], "as": ["v0", "v1"]}],
              "mark": {"type": "rect", "opacity": 0.9, "stroke": "#ffffff", "strokeWidth": 0.5},
              "encoding": {
                "x": {"field": "v0", "type": "quantitative", "scale": {"domain": [0, 820], "reverse": true, "nice": false, "zero": false}, "axis": null},
                "x2": {"field": "v1"},
                "y": {"field": "lo", "type": "quantitative", "title": null},
                "y2": {"field": "hi"},
                "color": {"field": "tone", "type": "nominal", "legend": null, "scale": {"domain": ["buy VA", "sell VA", "buy", "sell"], "range": ["#4fa3e6", "#f7c25a", "#cce3f7", "#fbe8c2"]}}
              }
            },
            {
              "data": {"name": "tags"},
              "transform": [{"filter": "datum.kind == 'last'"}],
              "mark": {"type": "point", "shape": "M-1,-0.125H1V0.125H-1Z", "size": 12544, "filled": true, "color": "#26a69a", "opacity": 1},
              "encoding": {"x": {"datum": -56, "type": "quantitative"}, "y": {"field": "price", "type": "quantitative", "title": null}}
            },
            {
              "data": {"name": "tags"},
              "transform": [{"filter": "datum.kind == 'last'"}],
              "mark": {"type": "text", "align": "left", "baseline": "middle", "fontSize": 14, "color": "#ffffff"},
              "encoding": {"x": {"datum": -12, "type": "quantitative"}, "y": {"field": "price", "type": "quantitative", "title": null}, "text": {"field": "label"}}
            },
            {
              "data": {"name": "tags"},
              "transform": [{"filter": "datum.kind == 'countdown'"}],
              "mark": {"type": "point", "shape": "M-1,-0.163H1V0.163H-1Z", "size": 7396, "filled": true, "color": "#26a69a", "opacity": 1, "yOffset": 16},
              "encoding": {"x": {"datum": -69, "type": "quantitative"}, "y": {"field": "price", "type": "quantitative", "title": null}}
            },
            {
              "data": {"name": "tags"},
              "transform": [{"filter": "datum.kind == 'countdown'"}],
              "mark": {"type": "text", "align": "right", "baseline": "middle", "fontSize": 14, "color": "#ffffff", "yOffset": 16},
              "encoding": {"x": {"datum": -100, "type": "quantitative"}, "y": {"field": "price", "type": "quantitative", "title": null}, "text": {"field": "label"}}
            },
            {
              "data": {"name": "tags"},
              "transform": [{"filter": "datum.kind == 'bid'"}],
              "mark": {"type": "point", "shape": "M-1,-0.125H1V0.125H-1Z", "size": 12544, "filled": true, "color": "#ff0000", "opacity": 1, "yOffset": 31},
              "encoding": {"x": {"datum": -56, "type": "quantitative"}, "y": {"field": "price", "type": "quantitative", "title": null}}
            },
            {
              "data": {"name": "tags"},
              "transform": [{"filter": "datum.kind == 'bid'"}],
              "mark": {"type": "text", "align": "left", "baseline": "middle", "fontSize": 14, "color": "#ffffff", "yOffset": 31},
              "encoding": {"x": {"datum": -12, "type": "quantitative"}, "y": {"field": "price", "type": "quantitative", "title": null}, "text": {"field": "label"}}
            },
            {
              "data": {"name": "scaleLabel"},
              "mark": {"type": "point", "shape": "M-1,-0.42H1V0.42H-1Z", "size": 1600, "filled": true, "fill": "#ffffff", "stroke": "#c9ccd4", "strokeWidth": 1, "opacity": 1},
              "encoding": {"x": {"datum": -57, "type": "quantitative"}, "y": {"field": "price", "type": "quantitative", "title": null}}
            },
            {
              "data": {"name": "scaleLabel"},
              "mark": {"type": "text", "align": "center", "baseline": "middle", "fontSize": 12, "color": "#131722"},
              "encoding": {"x": {"datum": -57, "type": "quantitative"}, "y": {"field": "price", "type": "quantitative", "title": null}, "text": {"field": "label"}}
            }
          ],
          "resolve": {"scale": {"color": "independent"}}
        },
        {
          "encoding": {
            "x": {
              "field": "date", "type": "temporal",
              "scale": {"domain": [{"year": 2017, "month": 5, "date": 12}, {"year": 2021, "month": 12, "date": 8}]},
              "axis": null
            }
          },
          "layer": [
            {
              "data": {"name": "drawings"},
              "transform": [{"filter": "datum.line == 'support'"}],
              "mark": {"type": "line", "color": "#4f79b3", "strokeWidth": 2, "clip": true},
              "encoding": {"y": {"field": "price", "type": "quantitative", "title": null}}
            },
            {
              "data": {"name": "drawings"},
              "transform": [{"filter": "datum.line == 'level'"}],
              "mark": {"type": "line", "color": "#f23645", "strokeWidth": 1.5, "clip": true},
              "encoding": {"y": {"field": "price", "type": "quantitative", "title": null}}
            },
            {
              "data": {"name": "drawings"},
              "transform": [{"filter": "datum.line == 'fan'"}],
              "mark": {"type": "line", "color": "#8f929b", "strokeWidth": 1, "strokeDash": [4, 3], "clip": true},
              "encoding": {"y": {"field": "price", "type": "quantitative", "title": null}}
            },
            {
              "data": {"name": "drawings"},
              "transform": [{"filter": "datum.line == 'claw'"}],
              "mark": {"type": "line", "color": "#4a5f8f", "strokeWidth": 2, "clip": true},
              "encoding": {"y": {"field": "price", "type": "quantitative", "title": null}}
            },
            {
              "data": {"name": "signalLines"},
              "mark": {"type": "rule", "strokeWidth": 1.2, "clip": true},
              "encoding": {
                "y": {"field": "low", "type": "quantitative", "title": null},
                "y2": {"field": "high"},
                "color": {"field": "kind", "type": "nominal", "legend": null, "scale": {"domain": ["CCP", "USA", "TSRBBF"], "range": ["#f23645", "#22ab94", "#3a3e4a"]}}
              }
            },
            {
              "data": {"name": "signals"},
              "transform": [{"filter": "toDate(datum.date) >= toDate('2017-06-01')"}],
              "mark": {"type": "text", "fontSize": 7, "clip": true},
              "encoding": {
                "y": {"field": "price", "type": "quantitative", "title": null},
                "text": {"field": "label"},
                "color": {"field": "kind", "type": "nominal", "legend": null, "scale": {"domain": ["CCP", "USA", "TSRBBF"], "range": ["#f23645", "#22ab94", "#3a3e4a"]}}
              }
            },
            {
              "data": {"name": "signals"},
              "transform": [{"filter": "toDate(datum.date) < toDate('2017-06-01')"}],
              "mark": {"type": "text", "fontSize": 7, "align": "left", "dx": -5, "clip": true},
              "encoding": {
                "y": {"field": "price", "type": "quantitative", "title": null},
                "text": {"field": "label"},
                "color": {"field": "kind", "type": "nominal", "legend": null, "scale": {"domain": ["CCP", "USA", "TSRBBF"], "range": ["#f23645", "#22ab94", "#3a3e4a"]}}
              }
            }
          ],
          "resolve": {"scale": {"color": "independent"}}
        }
      ],
      "resolve": {"scale": {"x": "independent", "color": "independent"}}
    },
    {
      "width": 820,
      "height": 64,
      "title": {
        "text": "RSI (14, close)",
        "anchor": "start", "frame": "group", "orient": "top", "offset": -12,
        "dx": 5, "fontSize": 7, "fontWeight": "normal", "color": "#50535e"
      },
      "encoding": {
        "x": {
          "field": "date", "type": "temporal", "title": null,
          "scale": {"domain": [{"year": 2017, "month": 5, "date": 12}, {"year": 2021, "month": 12, "date": 8}]},
          "axis": {
            "values": [{"year": 2018, "month": 1, "date": 1}, {"year": 2019, "month": 1, "date": 1}, {"year": 2020, "month": 1, "date": 1}, {"year": 2021, "month": 1, "date": 1}],
            "format": "%Y", "labelFontSize": 13.5, "labelFontWeight": "bold", "labelColor": "#2a2e39",
            "labelPadding": 4, "labelFlush": false, "ticks": false, "domainColor": "#b2b5be",
            "grid": true, "gridColor": "#eef0f4"
          }
        }
      },
      "layer": [
        {
          "data": {"name": "rsiBand"},
          "mark": {"type": "rect", "color": "#7e57c2", "opacity": 0.1},
          "encoding": {
            "x2": {"field": "date2"},
            "y": {
              "field": "lo", "type": "quantitative", "title": null,
              "scale": {"domain": [3.3, 110], "nice": false, "zero": false},
              "axis": {
                "orient": "right", "values": [50, 100], "format": ".2f",
                "labelFontSize": 14, "labelColor": "#131722", "labelPadding": 6,
                "tickSize": 5, "tickColor": "#a3a6af", "domainColor": "#a3a6af", "grid": false
              }
            },
            "y2": {"field": "hi"}
          }
        },
        {
          "data": {"name": "rsiBand"},
          "mark": {"type": "rule", "color": "#9598a1", "strokeDash": [3, 3], "opacity": 0.7, "clip": true},
          "encoding": {"x2": {"field": "date2"}, "y": {"field": "lo", "type": "quantitative", "title": null}}
        },
        {
          "data": {"name": "rsiBand"},
          "mark": {"type": "rule", "color": "#9598a1", "strokeDash": [3, 3], "opacity": 0.7, "clip": true},
          "encoding": {"x2": {"field": "date2"}, "y": {"field": "hi", "type": "quantitative", "title": null}}
        },
        {
          "data": {"name": "rsi"},
          "mark": {"type": "line", "color": "#7e57c2", "strokeWidth": 1, "clip": true},
          "encoding": {"y": {"field": "rsi", "type": "quantitative", "title": null}}
        },
        {
          "data": {"name": "rsiLines"},
          "mark": {"type": "line", "color": "#5d81b3", "strokeWidth": 2, "clip": true},
          "encoding": {"y": {"field": "rsi", "type": "quantitative", "title": null}, "detail": {"field": "line", "type": "nominal"}}
        }
      ]
    }
  ]
}
